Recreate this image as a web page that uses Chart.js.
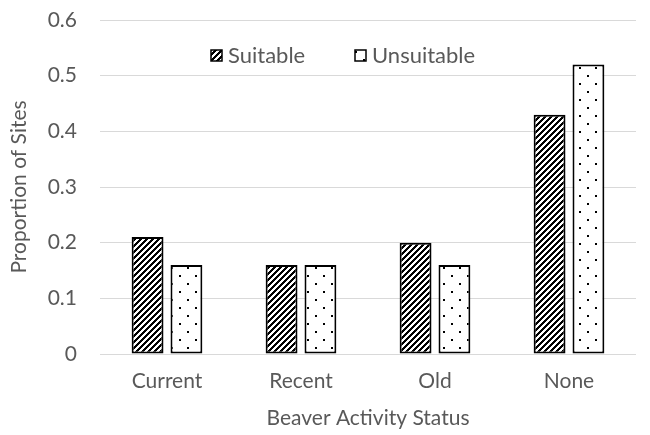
<!DOCTYPE html>
<html>
<head>
<meta charset="utf-8">
<script src="https://cdn.jsdelivr.net/npm/chart.js@4.4.1/dist/chart.umd.min.js"></script>
<style>
  html, body { margin: 0; padding: 0; background: #fff; }
  #wrap { width: 650px; height: 435px; }
</style>
</head>
<body>
<div id="wrap"><canvas id="chart" width="650" height="435"></canvas></div>
<script>
const categories = ['Current', 'Recent', 'Old', 'None'];
const suitable = [0.21, 0.16, 0.20, 0.43];
const unsuitable = [0.16, 0.16, 0.16, 0.52];
const seriesNames = ['Suitable', 'Unsuitable'];

const textColor = '#595959';
const fontFamily = 'Lato, "Open Sans", sans-serif';
const fontSize = 21;

// diagonal "////" hatch, built pixel by pixel so the tile wraps cleanly
function makeHatch() {
  const size = 6;
  const c = document.createElement('canvas');
  c.width = size; c.height = size;
  const cx = c.getContext('2d');
  const img = cx.createImageData(size, size);
  for (let y = 0; y < size; y++) {
    for (let x = 0; x < size; x++) {
      const dark = ((x + y) % size) < 3;
      const i = (y * size + x) * 4;
      const v = dark ? 0 : 255;
      img.data[i] = v; img.data[i + 1] = v; img.data[i + 2] = v; img.data[i + 3] = 255;
    }
  }
  cx.putImageData(img, 0, 0);
  return cx.createPattern(c, 'repeat');
}

// sparse staggered dots
function makeDots() {
  const size = 16;
  const c = document.createElement('canvas');
  c.width = size; c.height = size;
  const cx = c.getContext('2d');
  cx.fillStyle = '#fff';
  cx.fillRect(0, 0, size, size);
  cx.fillStyle = '#000';
  cx.fillRect(3, 3, 2, 2);
  cx.fillRect(11, 11, 2, 2);
  return cx.createPattern(c, 'repeat');
}

const hatch = makeHatch();
const dots = makeDots();

// legend drawn inside the plot area
const innerLegend = {
  id: 'innerLegend',
  afterDraw(chart) {
    const ctx = chart.ctx;
    const items = [
      { label: seriesNames[0], fill: hatch, x: 211 },
      { label: seriesNames[1], fill: dots, x: 355 }
    ];
    const y = 55;
    ctx.save();
    ctx.font = '22px ' + fontFamily;
    ctx.textBaseline = 'middle';
    ctx.textAlign = 'left';
    items.forEach(it => {
      ctx.fillStyle = it.fill;
      ctx.fillRect(it.x, y - 5, 11, 11);
      ctx.strokeStyle = '#000';
      ctx.lineWidth = 1.5;
      ctx.strokeRect(it.x, y - 5, 11, 11);
      ctx.fillStyle = textColor;
      ctx.fillText(it.label, it.x + 17, y + 1);
    });
    ctx.restore();
  }
};

new Chart(document.getElementById('chart'), {
  type: 'bar',
  data: {
    labels: categories,
    datasets: [
      {
        label: seriesNames[0],
        data: suitable,
        backgroundColor: hatch,
        borderColor: '#000',
        borderWidth: 2,
        borderSkipped: false
      },
      {
        label: seriesNames[1],
        data: unsuitable,
        backgroundColor: dots,
        borderColor: '#000',
        borderWidth: 2,
        borderSkipped: false
      }
    ]
  },
  options: {
    responsive: false,
    animation: false,
    datasets: {
      bar: { categoryPercentage: 0.58, barPercentage: 0.82 }
    },
    layout: { padding: { top: 20, right: 14, left: 7, bottom: 0 } },
    plugins: {
      legend: { display: false },
      tooltip: { enabled: false }
    },
    scales: {
      x: {
        grid: { display: false, drawTicks: false },
        border: { display: false },
        ticks: { color: textColor, font: { family: fontFamily, size: fontSize }, padding: 15 },
        title: {
          display: true,
          text: 'Beaver Activity Status',
          color: textColor,
          font: { family: fontFamily, size: fontSize },
          padding: { top: 0, bottom: 4 }
        },
        afterFit: s => { s.height = 81; }
      },
      y: {
        min: 0,
        max: 0.6,
        ticks: {
          stepSize: 0.1,
          color: textColor,
          font: { family: fontFamily, size: fontSize },
          padding: 23,
          callback: v => Math.round(v * 10) / 10
        },
        grid: { color: '#d9d9d9', lineWidth: 1, drawTicks: false },
        border: { display: false },
        title: {
          display: true,
          text: 'Proportion of Sites',
          color: textColor,
          font: { family: fontFamily, size: fontSize },
          padding: { top: 0, bottom: 17 }
        },
        afterFit: s => { s.width = 93; s.paddingTop = 0; s.paddingBottom = 0; }
      }
    }
  },
  plugins: [innerLegend]
});
</script>
</body>
</html>
